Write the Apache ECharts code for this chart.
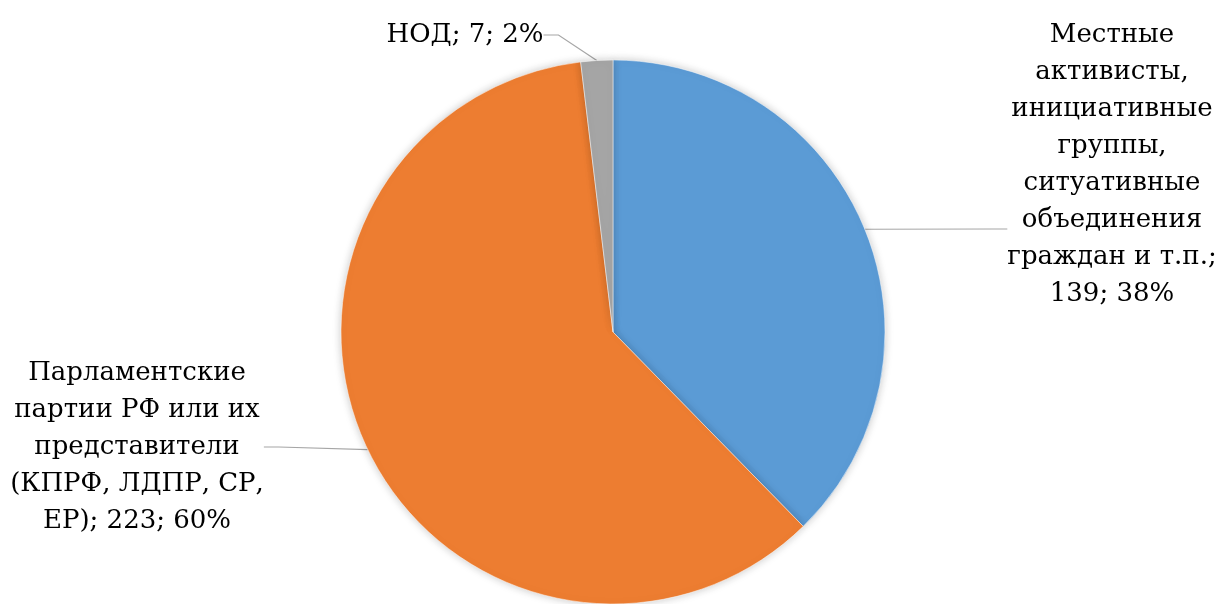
<!DOCTYPE html>
<html>
<head>
<meta charset="utf-8">
<script src="https://cdn.jsdelivr.net/npm/echarts@6/dist/echarts.min.js"></script>
<style>
html,body{margin:0;padding:0;background:#fff;}
#chart{width:1225px;height:604px;}
</style>
</head>
<body>
<div id="chart"></div>
<script>
var categories = [
  'Местные\nактивисты,\nинициативные\nгруппы,\nситуативные\nобъединения\nграждан и т.п.',
  'Парламентские\nпартии РФ или их\nпредставители\n(КПРФ, ЛДПР, СР,\nЕР)',
  'НОД'
];
var values = [139, 223, 7];
var separators = [';\n', '; ', '; '];
var colors = ['#5B9BD5', '#ED7D31', '#A5A5A5'];

var chart = echarts.init(document.getElementById('chart'), null, {renderer: 'canvas'});
var labelSpots = [
  {x: 1112, y: 229},
  {x: 137, y: 447},
  {x: 465, y: 35}
];
// extra empty space under the text so that the leader line meets the label lower down
var spacerHeights = [129, 0, 0];
chart.setOption({
  animation: false,
  backgroundColor: '#ffffff',
  series: [{
    type: 'pie',
    center: [613, 332],
    radius: [0, 272],
    startAngle: 90,
    clockwise: true,
    percentPrecision: 0,
    avoidLabelOverlap: false,
    data: categories.map(function (c, i) {
      return {name: c, value: values[i], itemStyle: {color: colors[i]}};
    }),
    itemStyle: {
      borderColor: '#ffffff',
      borderWidth: 0.5,
      shadowBlur: 8,
      shadowColor: 'rgba(0,0,0,0.22)'
    },
    label: {
      show: true,
      position: 'outside',
      fontFamily: 'DejaVu Serif',
      fontSize: 26,
      lineHeight: 37,
      color: '#000000',
      align: 'center',
      formatter: function (p) {
        var lines = (p.name + separators[p.dataIndex] + p.value + '; ' + Math.round(p.percent) + '%').split('\n');
        var out = lines.map(function (l) { return '{t|' + l + '}'; }).join('\n');
        if (spacerHeights[p.dataIndex] > 0) {
          out += '\n{sp' + p.dataIndex + '|\u200b}';
        }
        return out;
      },
      rich: {
        t: {fontFamily: 'DejaVu Serif', fontSize: 26, lineHeight: 37, color: '#000000'},
        sp0: {fontSize: 10, lineHeight: spacerHeights[0], height: spacerHeights[0]}
      }
    },
    labelLine: {
      show: true,
      length: 15,
      length2: 15,
      lineStyle: {color: '#A6A6A6', width: 1.2}
    },
    labelLayout: function (p) {
      var s = labelSpots[p.dataIndex];
      return {x: s.x, y: s.y, align: 'center', verticalAlign: 'middle'};
    }
  }]
});
</script>
</body>
</html>
